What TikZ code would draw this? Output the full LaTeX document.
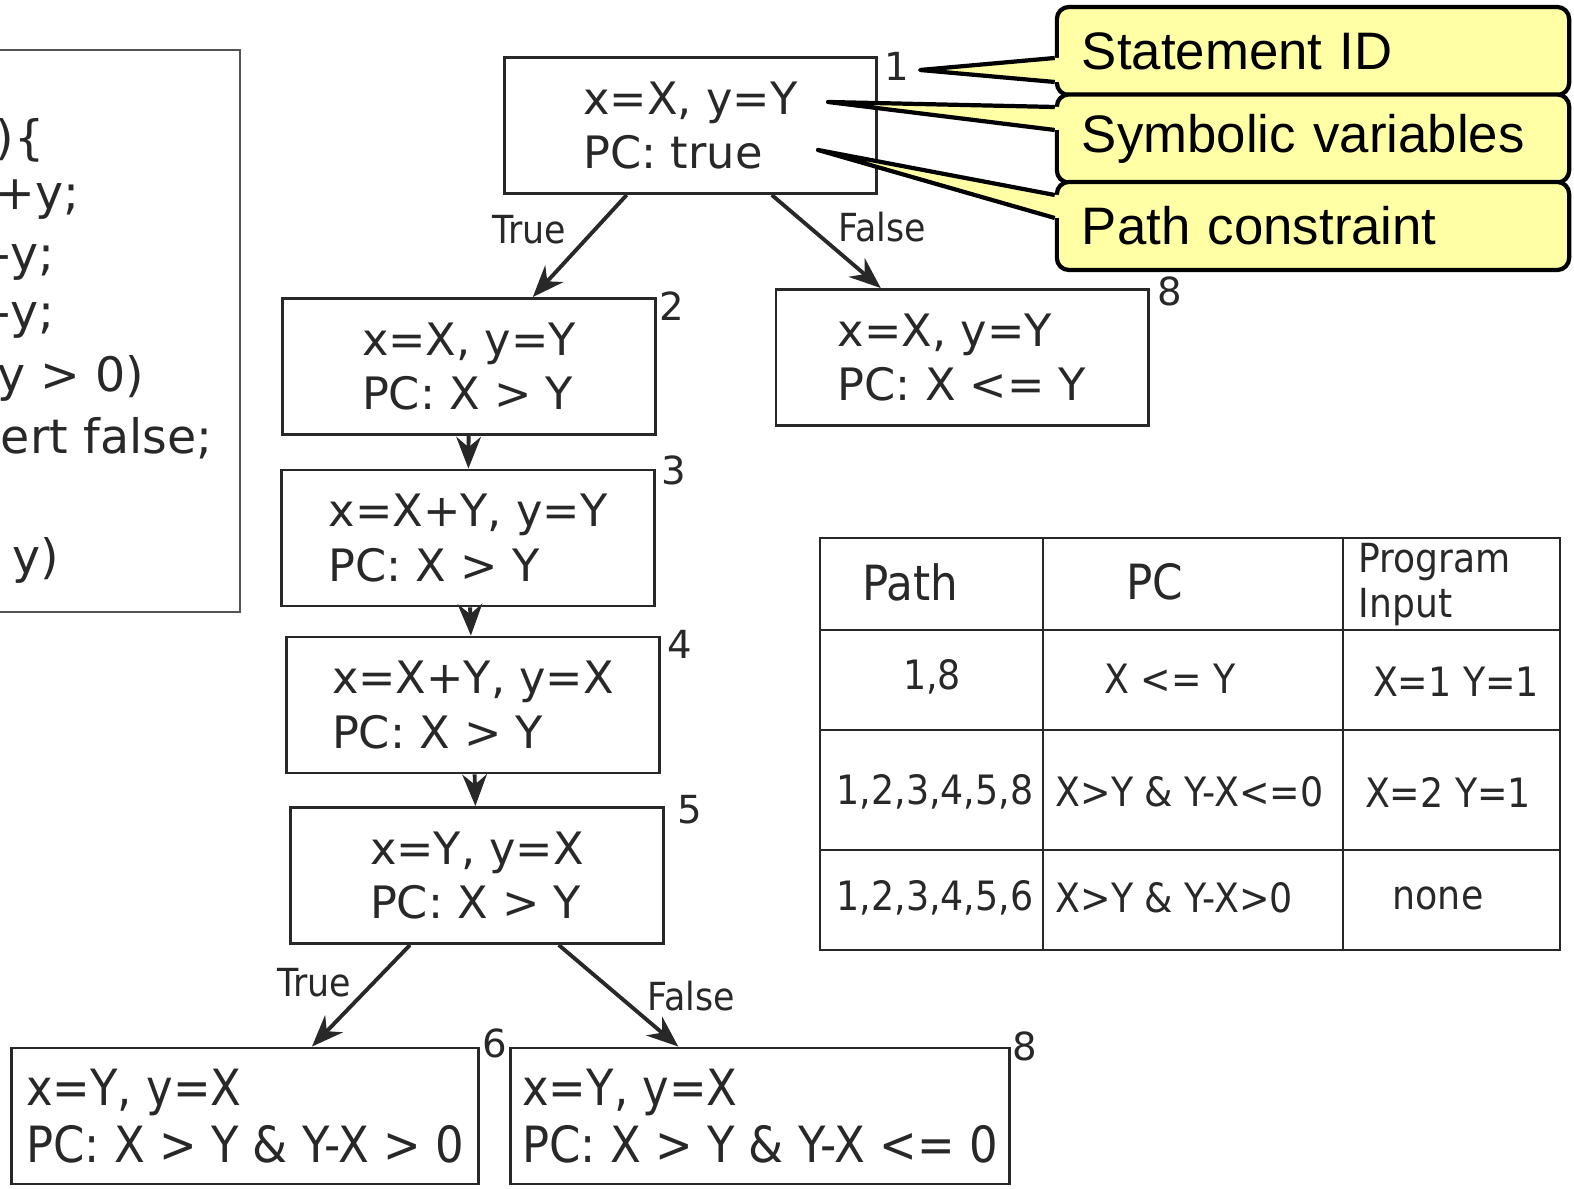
\documentclass[tikz,border=0pt]{standalone}
\usepackage{fontspec}
\setmainfont{DejaVu Sans}
\newfontfamily\condfont{DejaVu Sans}[FakeStretch=0.9]
\newfontfamily\calloutfont{Liberation Sans}
\usetikzlibrary{arrows.meta,calc}

\definecolor{inkgray}{RGB}{40,40,40}
\definecolor{notefill}{RGB}{255,255,165}

\tikzset{
  state/.style={draw=inkgray, thick, text=inkgray, minimum width=3.72cm, minimum height=1.36cm,
                align=left, font=\fontsize{12.7}{15.6}\selectfont},
  leaf/.style={draw=inkgray, thick, text=inkgray, minimum width=#1, minimum height=1.36cm,
               align=left, font=\condfont\fontsize{14.2}{16.2}\selectfont},
  idnum/.style={inner sep=1pt, text=inkgray, font=\fontsize{11}{13}\selectfont},
  note/.style={draw=black, line width=1.2pt, fill=notefill, rounded corners=0.12cm,
               text width=4.62cm, inner xsep=0.25cm, minimum height=0.88cm, align=left,
               font=\calloutfont\fontsize{15}{18}\selectfont},
  cell/.style={text=inkgray, inner sep=0pt, font=\condfont\fontsize{11.5}{13}\selectfont},
  codeline/.style={anchor=east, inner sep=0pt, text=inkgray, font=\fontsize{13.5}{16}\selectfont}
}

\begin{document}
\begin{tikzpicture}[x=0.01cm, y=-0.01cm]
        \useasboundingbox (0,0) rectangle (1574,1189);

        % source code (cut at the left)
        \draw[draw=inkgray!80, semithick] (-20,50) rectangle (240,612);
        \foreach \t/\x/\y [count=\k] in {)\{/45/140, +y;/80/200, -y;/55/262, -y;/55/320,
                                         y > 0)/145/378, ert false;/213/438, y)/60/560}
            \node[codeline] (code\k) at (\x,\y) {\t};

        % symbolic execution tree
        \node[state] (s1) at (690.5,125.5) {x=X, y=Y\\PC: true};
        \node[state] (s2) at (469,366.5) {x=X, y=Y\\PC: X > Y};
        \node[state] (s8a) at (962,357.5) {x=X, y=Y\\PC: X <= Y};
        \node[state] (s3) at (468,538) {x=X+Y, y=Y\\PC: X > Y};
        \node[state] (s4) at (473,705) {x=X+Y, y=X\\PC: X > Y};
        \node[state] (s5) at (477,875.5) {x=Y, y=X\\PC: X > Y};
        \node[leaf=4.66cm] (s6) at (245,1116) {x=Y, y=X\\PC: X > Y \& Y-X > 0};
        \node[leaf=4.96cm] (s8b) at (760,1116) {x=Y, y=X\\PC: X > Y \& Y-X <= 0};

        \foreach \n/\i/\dx/\dy in {s1/1/19/10, s2/2/15/9, s8a/8/20/3, s3/3/18/2,
                                   s4/4/19/9, s5/5/25/4, s6/6/15/-3, s8b/8/14/0}
            \node[idnum] (id\n) at ($(\n.north east)+(\dx,\dy)$) {\i};

        \begin{scope}[>={Stealth[length=9pt,width=7pt]},
                      every node/.style={text=inkgray, font=\condfont\fontsize{11}{13}\selectfont},
                      every edge/.style={draw=inkgray, line width=1.1pt}]
            \path [->] (s1) edge node[pos=0.34, left=0.15cm] (t1) {True} (s2);
            \path [->] (s1) edge node[pos=0.35, right=0.15cm] (f1) {False} (s8a);
            \path [->] (s2) edge (s3);
            \path [->] (s3) edge (s4);
            \path [->] (s4) edge (s5);
            \path [->] (s5) edge node[pos=0.37, left=0.09cm] (t5) {True} (s6);
            \path [->] (s5) edge node[pos=0.5, right=0.15cm] (f5) {False} (s8b);
        \end{scope}

        % path table
        \draw[draw=inkgray, semithick] (820,538) rectangle (1560,950);
        \foreach \y in {630,730,850}
            \draw[draw=inkgray, semithick] (820,\y) -- (1560,\y);
        \foreach \x in {1043,1343}
            \draw[draw=inkgray, semithick] (\x,538) -- (\x,950);

        \node[cell, font=\condfont\fontsize{13.8}{16}\selectfont] (hpath) at (910,582) {Path};
        \node[cell, font=\condfont\fontsize{13.8}{16}\selectfont] (hpc) at (1155,582) {PC};
        \node[cell, anchor=west, align=left, font=\condfont\fontsize{11.4}{12.8}\selectfont]
            (hinput) at (1358,585) {Program\\Input};
        \node[cell] (p1) at (932,677) {1,8};
        \node[cell] (c1) at (1170,679) {X <= Y};
        \node[cell] (i1) at (1456,682) {X=1 Y=1};
        \node[cell] (p2) at (935,792) {1,2,3,4,5,8};
        \node[cell, anchor=west] (c2) at (1055,792) {X>Y \& Y-X<=0};
        \node[cell] (i2) at (1448,792) {X=2 Y=1};
        \node[cell] (p3) at (935,898) {1,2,3,4,5,6};
        \node[cell, anchor=west] (c3) at (1055,898) {X>Y \& Y-X>0};
        \node[cell] (i3) at (1438,898) {none};

        % callouts
        \node[note] (nid) at (1313,51) {Statement ID};
        \node[note] (nsym) at (1313,138.5) {Symbolic variables};
        \node[note] (npc) at (1313,226) {Path constraint};

        \foreach \n/\tx/\ty/\a/\b in {nid/920/70/7/31, nsym/828/102/-31.5/-8.5, npc/818/150/-31/-8} {
            \coordinate (\n tip) at (\tx,\ty);
            \fill[notefill] ($(\n.west)+(0,\a)$) -- (\n tip) -- ($(\n.west)+(0,\b)$)
                -- ($(\n.west)+(5,\b)$) -- ($(\n.west)+(5,\a)$) -- cycle;
            \draw[line width=1.2pt, line join=round]
                ($(\n.west)+(0,\a)$) -- (\n tip) -- ($(\n.west)+(0,\b)$);
        }
\end{tikzpicture}
\end{document}
